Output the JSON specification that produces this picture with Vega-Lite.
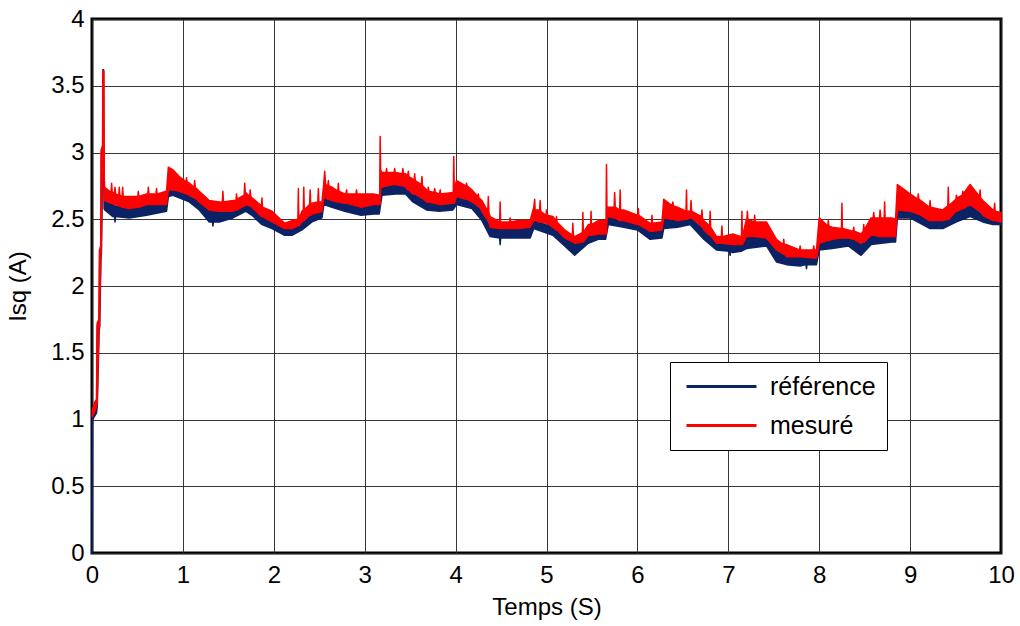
{
  "$schema": "https://vega.github.io/schema/vega-lite/v6.json",
  "width": 909,
  "height": 534,
  "autosize": {"type": "none"},
  "padding": {"left": 92, "top": 19, "right": 19, "bottom": 73},
  "background": "white",
  "config": {
    "font": "Liberation Sans",
    "view": {"stroke": "black", "strokeWidth": 3},
    "axis": {
      "labelFontSize": 24,
      "labelColor": "black",
      "titleFontSize": 24,
      "titleFontWeight": "normal",
      "titleColor": "black",
      "grid": true,
      "gridColor": "#222222",
      "gridWidth": 1,
      "gridOpacity": 0.9,
      "domain": false,
      "ticks": false,
      "labelFlush": false,
      "format": "~r"
    }
  },
  "datasets": {
    "ref": [
      {"t": 0, "lo": 0, "hi": 0},
      {"t": 0.003, "lo": 0, "hi": 1.02},
      {"t": 0.006, "lo": 1.0, "hi": 1.04},
      {"t": 0.05, "lo": 1.05, "hi": 1.1},
      {"t": 0.058, "lo": 1.1, "hi": 1.7},
      {"t": 0.078, "lo": 1.66, "hi": 1.72},
      {"t": 0.085, "lo": 1.7, "hi": 2.25},
      {"t": 0.098, "lo": 2.2, "hi": 2.28},
      {"t": 0.104, "lo": 2.25, "hi": 3.0},
      {"t": 0.118, "lo": 2.95, "hi": 3.02},
      {"t": 0.12, "lo": 2.95, "hi": 3.62},
      {"t": 0.128, "lo": 3.0, "hi": 3.62},
      {"t": 0.133, "lo": 2.58, "hi": 2.64},
      {"t": 0.14, "lo": 2.57, "hi": 2.64},
      {"t": 0.23, "lo": 2.52, "hi": 2.61},
      {"t": 0.247, "lo": 2.52, "hi": 2.6},
      {"t": 0.253, "lo": 2.48, "hi": 2.6},
      {"t": 0.259, "lo": 2.52, "hi": 2.6},
      {"t": 0.41, "lo": 2.51, "hi": 2.58},
      {"t": 0.6, "lo": 2.53, "hi": 2.61},
      {"t": 0.82, "lo": 2.56, "hi": 2.61},
      {"t": 0.84, "lo": 2.67, "hi": 2.72},
      {"t": 0.89, "lo": 2.68, "hi": 2.72},
      {"t": 0.96, "lo": 2.66, "hi": 2.71},
      {"t": 1.07, "lo": 2.63, "hi": 2.68},
      {"t": 1.18, "lo": 2.57, "hi": 2.63},
      {"t": 1.29, "lo": 2.48, "hi": 2.57},
      {"t": 1.324, "lo": 2.48, "hi": 2.56},
      {"t": 1.33, "lo": 2.45, "hi": 2.56},
      {"t": 1.336, "lo": 2.48, "hi": 2.56},
      {"t": 1.4, "lo": 2.48, "hi": 2.56},
      {"t": 1.55, "lo": 2.51, "hi": 2.56},
      {"t": 1.69, "lo": 2.56, "hi": 2.61},
      {"t": 1.76, "lo": 2.53, "hi": 2.59},
      {"t": 1.87, "lo": 2.46, "hi": 2.52},
      {"t": 1.98, "lo": 2.43, "hi": 2.48},
      {"t": 2.12, "lo": 2.38, "hi": 2.43},
      {"t": 2.2, "lo": 2.38, "hi": 2.43},
      {"t": 2.31, "lo": 2.42, "hi": 2.48},
      {"t": 2.42, "lo": 2.48, "hi": 2.54},
      {"t": 2.53, "lo": 2.51, "hi": 2.56},
      {"t": 2.55, "lo": 2.61, "hi": 2.66},
      {"t": 2.64, "lo": 2.59, "hi": 2.64},
      {"t": 2.78, "lo": 2.56, "hi": 2.62},
      {"t": 2.96, "lo": 2.53, "hi": 2.59},
      {"t": 3.1, "lo": 2.54, "hi": 2.61},
      {"t": 3.16, "lo": 2.54, "hi": 2.61},
      {"t": 3.19, "lo": 2.68, "hi": 2.74},
      {"t": 3.34, "lo": 2.69, "hi": 2.76},
      {"t": 3.45, "lo": 2.69, "hi": 2.74},
      {"t": 3.53, "lo": 2.63, "hi": 2.69},
      {"t": 3.68, "lo": 2.57, "hi": 2.63},
      {"t": 3.82, "lo": 2.56, "hi": 2.61},
      {"t": 3.97, "lo": 2.57, "hi": 2.62},
      {"t": 4.01, "lo": 2.61, "hi": 2.67},
      {"t": 4.18, "lo": 2.58, "hi": 2.63},
      {"t": 4.29, "lo": 2.49, "hi": 2.56},
      {"t": 4.38, "lo": 2.37, "hi": 2.44},
      {"t": 4.484, "lo": 2.36, "hi": 2.43},
      {"t": 4.49, "lo": 2.31, "hi": 2.43},
      {"t": 4.496, "lo": 2.36, "hi": 2.43},
      {"t": 4.55, "lo": 2.36, "hi": 2.43},
      {"t": 4.69, "lo": 2.36, "hi": 2.43},
      {"t": 4.82, "lo": 2.36, "hi": 2.44},
      {"t": 4.86, "lo": 2.43, "hi": 2.49},
      {"t": 5.07, "lo": 2.38, "hi": 2.44},
      {"t": 5.2, "lo": 2.3, "hi": 2.36},
      {"t": 5.31, "lo": 2.23, "hi": 2.32},
      {"t": 5.46, "lo": 2.32, "hi": 2.38},
      {"t": 5.57, "lo": 2.35, "hi": 2.39},
      {"t": 5.65, "lo": 2.35, "hi": 2.39},
      {"t": 5.68, "lo": 2.46, "hi": 2.52},
      {"t": 5.85, "lo": 2.44, "hi": 2.49},
      {"t": 6.0, "lo": 2.42, "hi": 2.46},
      {"t": 6.14, "lo": 2.35, "hi": 2.41},
      {"t": 6.27, "lo": 2.36, "hi": 2.42},
      {"t": 6.29, "lo": 2.43, "hi": 2.51},
      {"t": 6.44, "lo": 2.44, "hi": 2.49},
      {"t": 6.58, "lo": 2.46, "hi": 2.51},
      {"t": 6.73, "lo": 2.35, "hi": 2.42},
      {"t": 6.87, "lo": 2.27, "hi": 2.32},
      {"t": 7.014, "lo": 2.26, "hi": 2.31},
      {"t": 7.02, "lo": 2.23, "hi": 2.31},
      {"t": 7.026, "lo": 2.26, "hi": 2.31},
      {"t": 7.05, "lo": 2.25, "hi": 2.31},
      {"t": 7.14, "lo": 2.26, "hi": 2.31},
      {"t": 7.2, "lo": 2.28, "hi": 2.37},
      {"t": 7.42, "lo": 2.3, "hi": 2.36},
      {"t": 7.53, "lo": 2.18, "hi": 2.27},
      {"t": 7.64, "lo": 2.16, "hi": 2.22},
      {"t": 7.79, "lo": 2.15, "hi": 2.22},
      {"t": 7.854, "lo": 2.16, "hi": 2.21},
      {"t": 7.86, "lo": 2.13, "hi": 2.21},
      {"t": 7.866, "lo": 2.16, "hi": 2.21},
      {"t": 7.97, "lo": 2.16, "hi": 2.21},
      {"t": 8.0, "lo": 2.27, "hi": 2.32},
      {"t": 8.14, "lo": 2.28, "hi": 2.35},
      {"t": 8.32, "lo": 2.3, "hi": 2.36},
      {"t": 8.46, "lo": 2.23, "hi": 2.32},
      {"t": 8.57, "lo": 2.31, "hi": 2.38},
      {"t": 8.8, "lo": 2.33, "hi": 2.37},
      {"t": 8.84, "lo": 2.33, "hi": 2.37},
      {"t": 8.86, "lo": 2.51, "hi": 2.57},
      {"t": 9.0, "lo": 2.51, "hi": 2.56},
      {"t": 9.22, "lo": 2.43, "hi": 2.49},
      {"t": 9.36, "lo": 2.43, "hi": 2.49},
      {"t": 9.51, "lo": 2.48, "hi": 2.56},
      {"t": 9.66, "lo": 2.52, "hi": 2.61},
      {"t": 9.8, "lo": 2.48, "hi": 2.53},
      {"t": 9.91, "lo": 2.46, "hi": 2.49},
      {"t": 10.0, "lo": 2.46, "hi": 2.48}
    ],
    "mes": [
      {"t": 0.003, "lo": 1.02, "hi": 1.07},
      {"t": 0.03, "lo": 1.06, "hi": 1.13},
      {"t": 0.05, "lo": 1.1, "hi": 1.15},
      {"t": 0.056, "lo": 1.12, "hi": 1.72},
      {"t": 0.076, "lo": 1.68, "hi": 1.75},
      {"t": 0.082, "lo": 1.7, "hi": 2.27},
      {"t": 0.096, "lo": 2.22, "hi": 2.3},
      {"t": 0.1, "lo": 2.25, "hi": 3.02},
      {"t": 0.116, "lo": 2.9, "hi": 3.05},
      {"t": 0.12, "lo": 2.9, "hi": 3.61},
      {"t": 0.13, "lo": 3.0, "hi": 3.61},
      {"t": 0.135, "lo": 2.64, "hi": 2.8},
      {"t": 0.14, "lo": 2.64, "hi": 2.74},
      {"t": 0.21, "lo": 2.62, "hi": 2.7},
      {"t": 0.216, "lo": 2.62, "hi": 2.77},
      {"t": 0.222, "lo": 2.62, "hi": 2.7},
      {"t": 0.247, "lo": 2.61, "hi": 2.7},
      {"t": 0.253, "lo": 2.61, "hi": 2.74},
      {"t": 0.259, "lo": 2.61, "hi": 2.69},
      {"t": 0.294, "lo": 2.6, "hi": 2.68},
      {"t": 0.3, "lo": 2.6, "hi": 2.74},
      {"t": 0.306, "lo": 2.6, "hi": 2.68},
      {"t": 0.331, "lo": 2.59, "hi": 2.67},
      {"t": 0.337, "lo": 2.59, "hi": 2.74},
      {"t": 0.343, "lo": 2.59, "hi": 2.67},
      {"t": 0.41, "lo": 2.58, "hi": 2.67},
      {"t": 0.504, "lo": 2.59, "hi": 2.67},
      {"t": 0.51, "lo": 2.59, "hi": 2.71},
      {"t": 0.516, "lo": 2.59, "hi": 2.67},
      {"t": 0.6, "lo": 2.61, "hi": 2.69},
      {"t": 0.614, "lo": 2.61, "hi": 2.69},
      {"t": 0.62, "lo": 2.61, "hi": 2.74},
      {"t": 0.626, "lo": 2.61, "hi": 2.69},
      {"t": 0.704, "lo": 2.61, "hi": 2.69},
      {"t": 0.71, "lo": 2.61, "hi": 2.73},
      {"t": 0.716, "lo": 2.61, "hi": 2.69},
      {"t": 0.82, "lo": 2.61, "hi": 2.71},
      {"t": 0.84, "lo": 2.72, "hi": 2.89},
      {"t": 0.89, "lo": 2.72, "hi": 2.87},
      {"t": 0.96, "lo": 2.71, "hi": 2.82},
      {"t": 1.034, "lo": 2.69, "hi": 2.78},
      {"t": 1.04, "lo": 2.69, "hi": 2.81},
      {"t": 1.046, "lo": 2.69, "hi": 2.78},
      {"t": 1.07, "lo": 2.68, "hi": 2.77},
      {"t": 1.124, "lo": 2.66, "hi": 2.74},
      {"t": 1.13, "lo": 2.66, "hi": 2.79},
      {"t": 1.136, "lo": 2.66, "hi": 2.74},
      {"t": 1.18, "lo": 2.63, "hi": 2.71},
      {"t": 1.29, "lo": 2.57, "hi": 2.64},
      {"t": 1.4, "lo": 2.56, "hi": 2.63},
      {"t": 1.434, "lo": 2.56, "hi": 2.63},
      {"t": 1.44, "lo": 2.56, "hi": 2.71},
      {"t": 1.446, "lo": 2.56, "hi": 2.63},
      {"t": 1.55, "lo": 2.56, "hi": 2.64},
      {"t": 1.584, "lo": 2.57, "hi": 2.64},
      {"t": 1.59, "lo": 2.57, "hi": 2.69},
      {"t": 1.596, "lo": 2.57, "hi": 2.65},
      {"t": 1.674, "lo": 2.6, "hi": 2.68},
      {"t": 1.68, "lo": 2.6, "hi": 2.77},
      {"t": 1.686, "lo": 2.61, "hi": 2.7},
      {"t": 1.69, "lo": 2.61, "hi": 2.7},
      {"t": 1.734, "lo": 2.6, "hi": 2.67},
      {"t": 1.74, "lo": 2.6, "hi": 2.72},
      {"t": 1.746, "lo": 2.6, "hi": 2.67},
      {"t": 1.76, "lo": 2.59, "hi": 2.66},
      {"t": 1.864, "lo": 2.52, "hi": 2.6},
      {"t": 1.87, "lo": 2.52, "hi": 2.66},
      {"t": 1.876, "lo": 2.52, "hi": 2.59},
      {"t": 1.98, "lo": 2.48, "hi": 2.56},
      {"t": 2.12, "lo": 2.43, "hi": 2.47},
      {"t": 2.2, "lo": 2.43, "hi": 2.49},
      {"t": 2.265, "lo": 2.45, "hi": 2.5},
      {"t": 2.27, "lo": 2.45, "hi": 2.73},
      {"t": 2.275, "lo": 2.45, "hi": 2.5},
      {"t": 2.31, "lo": 2.48, "hi": 2.56},
      {"t": 2.325, "lo": 2.49, "hi": 2.57},
      {"t": 2.33, "lo": 2.49, "hi": 2.74},
      {"t": 2.335, "lo": 2.49, "hi": 2.57},
      {"t": 2.394, "lo": 2.53, "hi": 2.61},
      {"t": 2.4, "lo": 2.53, "hi": 2.72},
      {"t": 2.406, "lo": 2.53, "hi": 2.61},
      {"t": 2.42, "lo": 2.54, "hi": 2.62},
      {"t": 2.484, "lo": 2.55, "hi": 2.63},
      {"t": 2.49, "lo": 2.55, "hi": 2.73},
      {"t": 2.496, "lo": 2.55, "hi": 2.63},
      {"t": 2.53, "lo": 2.56, "hi": 2.63},
      {"t": 2.55, "lo": 2.66, "hi": 2.77},
      {"t": 2.56, "lo": 2.66, "hi": 2.86},
      {"t": 2.57, "lo": 2.66, "hi": 2.76},
      {"t": 2.594, "lo": 2.65, "hi": 2.75},
      {"t": 2.6, "lo": 2.65, "hi": 2.79},
      {"t": 2.606, "lo": 2.65, "hi": 2.75},
      {"t": 2.64, "lo": 2.64, "hi": 2.74},
      {"t": 2.704, "lo": 2.63, "hi": 2.71},
      {"t": 2.71, "lo": 2.63, "hi": 2.77},
      {"t": 2.716, "lo": 2.63, "hi": 2.71},
      {"t": 2.78, "lo": 2.62, "hi": 2.69},
      {"t": 2.794, "lo": 2.62, "hi": 2.69},
      {"t": 2.8, "lo": 2.62, "hi": 2.72},
      {"t": 2.806, "lo": 2.62, "hi": 2.69},
      {"t": 2.904, "lo": 2.6, "hi": 2.69},
      {"t": 2.91, "lo": 2.6, "hi": 2.72},
      {"t": 2.916, "lo": 2.6, "hi": 2.69},
      {"t": 2.96, "lo": 2.59, "hi": 2.69},
      {"t": 3.1, "lo": 2.61, "hi": 2.69},
      {"t": 3.16, "lo": 2.61, "hi": 2.68},
      {"t": 3.165, "lo": 2.61, "hi": 2.68},
      {"t": 3.17, "lo": 2.61, "hi": 3.12},
      {"t": 3.175, "lo": 2.74, "hi": 2.87},
      {"t": 3.19, "lo": 2.74, "hi": 2.85},
      {"t": 3.234, "lo": 2.75, "hi": 2.85},
      {"t": 3.24, "lo": 2.75, "hi": 2.88},
      {"t": 3.246, "lo": 2.75, "hi": 2.85},
      {"t": 3.324, "lo": 2.76, "hi": 2.85},
      {"t": 3.33, "lo": 2.76, "hi": 2.88},
      {"t": 3.336, "lo": 2.76, "hi": 2.85},
      {"t": 3.34, "lo": 2.76, "hi": 2.85},
      {"t": 3.414, "lo": 2.75, "hi": 2.84},
      {"t": 3.42, "lo": 2.75, "hi": 2.88},
      {"t": 3.426, "lo": 2.75, "hi": 2.84},
      {"t": 3.45, "lo": 2.74, "hi": 2.84},
      {"t": 3.474, "lo": 2.72, "hi": 2.83},
      {"t": 3.48, "lo": 2.72, "hi": 2.86},
      {"t": 3.486, "lo": 2.72, "hi": 2.82},
      {"t": 3.53, "lo": 2.69, "hi": 2.8},
      {"t": 3.544, "lo": 2.69, "hi": 2.79},
      {"t": 3.55, "lo": 2.69, "hi": 2.84},
      {"t": 3.556, "lo": 2.69, "hi": 2.79},
      {"t": 3.624, "lo": 2.66, "hi": 2.76},
      {"t": 3.63, "lo": 2.66, "hi": 2.82},
      {"t": 3.636, "lo": 2.66, "hi": 2.75},
      {"t": 3.68, "lo": 2.63, "hi": 2.72},
      {"t": 3.694, "lo": 2.63, "hi": 2.71},
      {"t": 3.7, "lo": 2.63, "hi": 2.74},
      {"t": 3.706, "lo": 2.63, "hi": 2.71},
      {"t": 3.764, "lo": 2.62, "hi": 2.7},
      {"t": 3.77, "lo": 2.62, "hi": 2.73},
      {"t": 3.776, "lo": 2.62, "hi": 2.7},
      {"t": 3.82, "lo": 2.61, "hi": 2.69},
      {"t": 3.824, "lo": 2.61, "hi": 2.69},
      {"t": 3.83, "lo": 2.61, "hi": 2.72},
      {"t": 3.836, "lo": 2.61, "hi": 2.69},
      {"t": 3.97, "lo": 2.62, "hi": 2.7},
      {"t": 3.975, "lo": 2.62, "hi": 2.71},
      {"t": 3.98, "lo": 2.62, "hi": 2.97},
      {"t": 3.985, "lo": 2.62, "hi": 2.72},
      {"t": 4.01, "lo": 2.67, "hi": 2.79},
      {"t": 4.114, "lo": 2.65, "hi": 2.75},
      {"t": 4.12, "lo": 2.65, "hi": 2.77},
      {"t": 4.126, "lo": 2.65, "hi": 2.75},
      {"t": 4.18, "lo": 2.63, "hi": 2.72},
      {"t": 4.244, "lo": 2.6, "hi": 2.67},
      {"t": 4.25, "lo": 2.6, "hi": 2.69},
      {"t": 4.256, "lo": 2.6, "hi": 2.66},
      {"t": 4.29, "lo": 2.56, "hi": 2.64},
      {"t": 4.354, "lo": 2.49, "hi": 2.56},
      {"t": 4.36, "lo": 2.49, "hi": 2.67},
      {"t": 4.366, "lo": 2.48, "hi": 2.55},
      {"t": 4.38, "lo": 2.44, "hi": 2.52},
      {"t": 4.485, "lo": 2.43, "hi": 2.48},
      {"t": 4.49, "lo": 2.43, "hi": 2.63},
      {"t": 4.495, "lo": 2.43, "hi": 2.48},
      {"t": 4.55, "lo": 2.43, "hi": 2.48},
      {"t": 4.594, "lo": 2.43, "hi": 2.48},
      {"t": 4.6, "lo": 2.43, "hi": 2.51},
      {"t": 4.606, "lo": 2.43, "hi": 2.48},
      {"t": 4.69, "lo": 2.43, "hi": 2.49},
      {"t": 4.82, "lo": 2.44, "hi": 2.49},
      {"t": 4.86, "lo": 2.49, "hi": 2.59},
      {"t": 4.87, "lo": 2.49, "hi": 2.65},
      {"t": 4.875, "lo": 2.49, "hi": 2.57},
      {"t": 4.924, "lo": 2.48, "hi": 2.57},
      {"t": 4.93, "lo": 2.48, "hi": 2.64},
      {"t": 4.936, "lo": 2.48, "hi": 2.56},
      {"t": 4.994, "lo": 2.47, "hi": 2.53},
      {"t": 5.0, "lo": 2.47, "hi": 2.57},
      {"t": 5.006, "lo": 2.47, "hi": 2.53},
      {"t": 5.07, "lo": 2.44, "hi": 2.52},
      {"t": 5.104, "lo": 2.42, "hi": 2.49},
      {"t": 5.11, "lo": 2.42, "hi": 2.52},
      {"t": 5.116, "lo": 2.42, "hi": 2.48},
      {"t": 5.2, "lo": 2.36, "hi": 2.42},
      {"t": 5.284, "lo": 2.33, "hi": 2.38},
      {"t": 5.29, "lo": 2.33, "hi": 2.47},
      {"t": 5.296, "lo": 2.33, "hi": 2.38},
      {"t": 5.31, "lo": 2.32, "hi": 2.37},
      {"t": 5.395, "lo": 2.33, "hi": 2.4},
      {"t": 5.4, "lo": 2.33, "hi": 2.55},
      {"t": 5.405, "lo": 2.33, "hi": 2.4},
      {"t": 5.46, "lo": 2.38, "hi": 2.46},
      {"t": 5.485, "lo": 2.38, "hi": 2.46},
      {"t": 5.49, "lo": 2.38, "hi": 2.56},
      {"t": 5.495, "lo": 2.38, "hi": 2.46},
      {"t": 5.57, "lo": 2.39, "hi": 2.49},
      {"t": 5.655, "lo": 2.39, "hi": 2.49},
      {"t": 5.66, "lo": 2.39, "hi": 2.91},
      {"t": 5.665, "lo": 2.5, "hi": 2.59},
      {"t": 5.68, "lo": 2.52, "hi": 2.59},
      {"t": 5.744, "lo": 2.51, "hi": 2.59},
      {"t": 5.75, "lo": 2.51, "hi": 2.7},
      {"t": 5.756, "lo": 2.51, "hi": 2.59},
      {"t": 5.805, "lo": 2.49, "hi": 2.57},
      {"t": 5.81, "lo": 2.49, "hi": 2.72},
      {"t": 5.815, "lo": 2.49, "hi": 2.57},
      {"t": 5.85, "lo": 2.49, "hi": 2.57},
      {"t": 6.0, "lo": 2.46, "hi": 2.53},
      {"t": 6.004, "lo": 2.46, "hi": 2.53},
      {"t": 6.01, "lo": 2.46, "hi": 2.58},
      {"t": 6.016, "lo": 2.46, "hi": 2.53},
      {"t": 6.14, "lo": 2.41, "hi": 2.47},
      {"t": 6.154, "lo": 2.41, "hi": 2.47},
      {"t": 6.16, "lo": 2.41, "hi": 2.53},
      {"t": 6.166, "lo": 2.41, "hi": 2.47},
      {"t": 6.27, "lo": 2.42, "hi": 2.48},
      {"t": 6.29, "lo": 2.51, "hi": 2.65},
      {"t": 6.384, "lo": 2.5, "hi": 2.6},
      {"t": 6.39, "lo": 2.5, "hi": 2.63},
      {"t": 6.396, "lo": 2.5, "hi": 2.6},
      {"t": 6.44, "lo": 2.49, "hi": 2.59},
      {"t": 6.535, "lo": 2.5, "hi": 2.56},
      {"t": 6.54, "lo": 2.5, "hi": 2.72},
      {"t": 6.545, "lo": 2.5, "hi": 2.56},
      {"t": 6.58, "lo": 2.51, "hi": 2.56},
      {"t": 6.584, "lo": 2.51, "hi": 2.56},
      {"t": 6.59, "lo": 2.51, "hi": 2.64},
      {"t": 6.596, "lo": 2.51, "hi": 2.56},
      {"t": 6.704, "lo": 2.45, "hi": 2.52},
      {"t": 6.71, "lo": 2.45, "hi": 2.57},
      {"t": 6.716, "lo": 2.44, "hi": 2.51},
      {"t": 6.73, "lo": 2.42, "hi": 2.49},
      {"t": 6.794, "lo": 2.38, "hi": 2.45},
      {"t": 6.8, "lo": 2.38, "hi": 2.56},
      {"t": 6.806, "lo": 2.38, "hi": 2.44},
      {"t": 6.87, "lo": 2.32, "hi": 2.37},
      {"t": 6.924, "lo": 2.32, "hi": 2.37},
      {"t": 6.93, "lo": 2.32, "hi": 2.45},
      {"t": 6.936, "lo": 2.32, "hi": 2.37},
      {"t": 7.05, "lo": 2.31, "hi": 2.39},
      {"t": 7.14, "lo": 2.31, "hi": 2.37},
      {"t": 7.145, "lo": 2.31, "hi": 2.37},
      {"t": 7.15, "lo": 2.31, "hi": 2.56},
      {"t": 7.155, "lo": 2.31, "hi": 2.37},
      {"t": 7.2, "lo": 2.37, "hi": 2.5},
      {"t": 7.204, "lo": 2.37, "hi": 2.5},
      {"t": 7.21, "lo": 2.37, "hi": 2.56},
      {"t": 7.216, "lo": 2.37, "hi": 2.5},
      {"t": 7.284, "lo": 2.37, "hi": 2.48},
      {"t": 7.29, "lo": 2.37, "hi": 2.53},
      {"t": 7.296, "lo": 2.37, "hi": 2.48},
      {"t": 7.42, "lo": 2.36, "hi": 2.48},
      {"t": 7.53, "lo": 2.27, "hi": 2.35},
      {"t": 7.604, "lo": 2.24, "hi": 2.31},
      {"t": 7.61, "lo": 2.24, "hi": 2.35},
      {"t": 7.616, "lo": 2.24, "hi": 2.31},
      {"t": 7.64, "lo": 2.22, "hi": 2.31},
      {"t": 7.784, "lo": 2.22, "hi": 2.27},
      {"t": 7.79, "lo": 2.22, "hi": 2.3},
      {"t": 7.796, "lo": 2.22, "hi": 2.27},
      {"t": 7.934, "lo": 2.21, "hi": 2.27},
      {"t": 7.94, "lo": 2.21, "hi": 2.3},
      {"t": 7.946, "lo": 2.21, "hi": 2.27},
      {"t": 7.97, "lo": 2.21, "hi": 2.27},
      {"t": 8.0, "lo": 2.32, "hi": 2.51},
      {"t": 8.094, "lo": 2.34, "hi": 2.45},
      {"t": 8.1, "lo": 2.34, "hi": 2.49},
      {"t": 8.106, "lo": 2.34, "hi": 2.45},
      {"t": 8.14, "lo": 2.35, "hi": 2.44},
      {"t": 8.245, "lo": 2.36, "hi": 2.43},
      {"t": 8.25, "lo": 2.36, "hi": 2.62},
      {"t": 8.255, "lo": 2.36, "hi": 2.43},
      {"t": 8.32, "lo": 2.36, "hi": 2.42},
      {"t": 8.374, "lo": 2.35, "hi": 2.41},
      {"t": 8.38, "lo": 2.35, "hi": 2.44},
      {"t": 8.386, "lo": 2.35, "hi": 2.41},
      {"t": 8.46, "lo": 2.32, "hi": 2.39},
      {"t": 8.484, "lo": 2.33, "hi": 2.41},
      {"t": 8.49, "lo": 2.33, "hi": 2.46},
      {"t": 8.496, "lo": 2.33, "hi": 2.42},
      {"t": 8.57, "lo": 2.38, "hi": 2.51},
      {"t": 8.594, "lo": 2.38, "hi": 2.51},
      {"t": 8.6, "lo": 2.38, "hi": 2.55},
      {"t": 8.606, "lo": 2.38, "hi": 2.51},
      {"t": 8.664, "lo": 2.37, "hi": 2.51},
      {"t": 8.67, "lo": 2.37, "hi": 2.57},
      {"t": 8.676, "lo": 2.37, "hi": 2.51},
      {"t": 8.715, "lo": 2.37, "hi": 2.51},
      {"t": 8.72, "lo": 2.37, "hi": 2.63},
      {"t": 8.725, "lo": 2.37, "hi": 2.51},
      {"t": 8.8, "lo": 2.37, "hi": 2.51},
      {"t": 8.84, "lo": 2.37, "hi": 2.5},
      {"t": 8.86, "lo": 2.57, "hi": 2.76},
      {"t": 9.0, "lo": 2.56, "hi": 2.69},
      {"t": 9.084, "lo": 2.54, "hi": 2.65},
      {"t": 9.09, "lo": 2.54, "hi": 2.69},
      {"t": 9.096, "lo": 2.54, "hi": 2.65},
      {"t": 9.214, "lo": 2.49, "hi": 2.59},
      {"t": 9.22, "lo": 2.49, "hi": 2.64},
      {"t": 9.226, "lo": 2.49, "hi": 2.59},
      {"t": 9.36, "lo": 2.49, "hi": 2.57},
      {"t": 9.415, "lo": 2.5, "hi": 2.6},
      {"t": 9.42, "lo": 2.5, "hi": 2.74},
      {"t": 9.425, "lo": 2.5, "hi": 2.6},
      {"t": 9.504, "lo": 2.56, "hi": 2.65},
      {"t": 9.51, "lo": 2.56, "hi": 2.68},
      {"t": 9.516, "lo": 2.56, "hi": 2.66},
      {"t": 9.574, "lo": 2.58, "hi": 2.68},
      {"t": 9.58, "lo": 2.58, "hi": 2.71},
      {"t": 9.586, "lo": 2.58, "hi": 2.69},
      {"t": 9.66, "lo": 2.61, "hi": 2.76},
      {"t": 9.764, "lo": 2.56, "hi": 2.67},
      {"t": 9.77, "lo": 2.56, "hi": 2.72},
      {"t": 9.776, "lo": 2.56, "hi": 2.66},
      {"t": 9.8, "lo": 2.53, "hi": 2.64},
      {"t": 9.91, "lo": 2.49, "hi": 2.57},
      {"t": 9.924, "lo": 2.49, "hi": 2.57},
      {"t": 9.93, "lo": 2.49, "hi": 2.62},
      {"t": 9.936, "lo": 2.49, "hi": 2.56},
      {"t": 10.0, "lo": 2.48, "hi": 2.55}
    ]
  },
  "encoding": {
    "x": {
      "field": "t",
      "type": "quantitative",
      "scale": {"domain": [0, 10], "nice": false, "zero": false},
      "axis": {
        "values": [0, 1, 2, 3, 4, 5, 6, 7, 8, 9, 10],
        "title": "Temps (S)",
        "labelPadding": 10,
        "titlePadding": 8
      }
    },
    "y": {
      "field": "lo",
      "type": "quantitative",
      "scale": {"domain": [0, 4], "nice": false},
      "axis": {
        "values": [0, 0.5, 1, 1.5, 2, 2.5, 3, 3.5, 4],
        "title": "Isq (A)",
        "labelPadding": 8,
        "titlePadding": 20
      }
    },
    "y2": {"field": "hi"}
  },
  "layer": [
    {
      "data": {"name": "ref"},
      "mark": {"type": "area", "fill": "#0b2265", "strokeWidth": 1.5, "strokeJoin": "round", "fillOpacity": 1},
      "encoding": {
        "stroke": {
          "datum": "référence",
          "type": "nominal",
          "scale": {"domain": ["référence", "mesuré"], "range": ["#0b2265", "#ff0000"]},
          "legend": {
            "title": null,
            "orient": "none",
            "legendX": 578,
            "legendY": 343,
            "symbolType": "M-3,0H3",
            "symbolSize": 544,
            "symbolStrokeWidth": 3,
            "symbolOffset": 27,
            "labelFontSize": 25,
            "labelColor": "black",
            "labelOffset": 35,
            "fillColor": "white",
            "strokeColor": "black",
            "padding": 11,
            "rowPadding": 12,
            "encode": {"legend": {"update": {"strokeWidth": {"value": 3}}}}
          }
        }
      }
    },
    {
      "data": {"name": "mes"},
      "mark": {"type": "area", "fill": "#ff0000", "strokeWidth": 1.5, "strokeJoin": "round", "fillOpacity": 1},
      "encoding": {
        "stroke": {"datum": "mesuré", "type": "nominal"}
      }
    }
  ]
}
